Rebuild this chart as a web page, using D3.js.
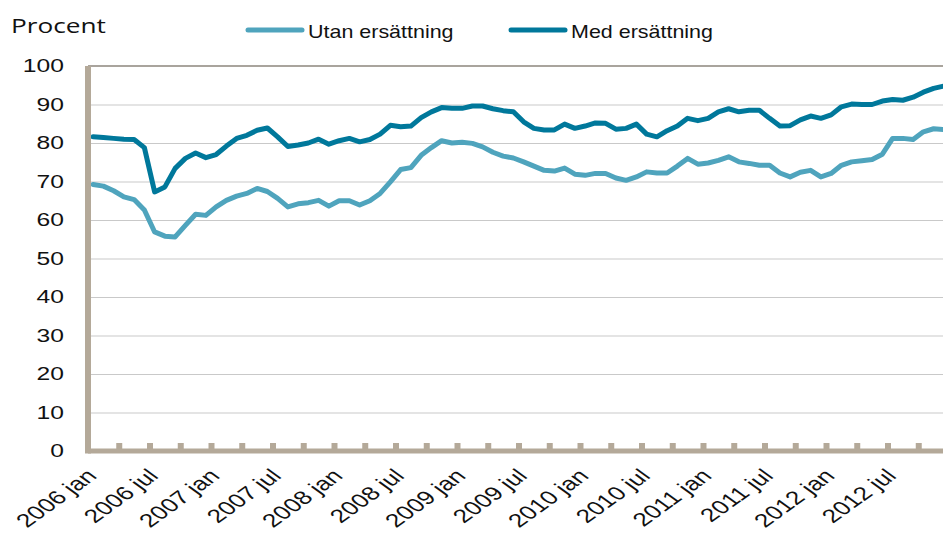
<!DOCTYPE html>
<html>
<head>
<meta charset="utf-8">
<script src="https://cdn.jsdelivr.net/npm/d3@7"></script>
<style>
  body { margin: 0; background: #fff; }
  svg { display: block; }
</style>
</head>
<body>
<svg id="chart"></svg>
<script>
// categories: one per month, 2006 jan .. 2012 dec
const years = [2006, 2007, 2008, 2009, 2010, 2011, 2012]
const monthNames = ["jan", "feb", "mar", "apr", "maj", "jun", "jul", "aug", "sep", "okt", "nov", "dec"]
const months = years.flatMap(y => monthNames.map(m => `${y} ${m}`))

// series values (procent)
const utan = [
  69.2, 68.8, 67.6, 66.0, 65.3, 62.6, 56.9, 55.8, 55.6, 58.6, 61.5, 61.2,
  63.4, 65.1, 66.2, 66.9, 68.2, 67.4, 65.6, 63.4, 64.2, 64.5, 65.1, 63.6,
  65.0, 65.0, 63.9, 65.0, 66.9, 69.9, 73.1, 73.6, 76.8, 78.8, 80.6, 80.0,
  80.2, 79.9, 79.0, 77.6, 76.6, 76.1, 75.1, 74.0, 72.9, 72.7, 73.5, 71.9,
  71.6, 72.1, 72.1, 70.9, 70.3, 71.2, 72.5, 72.2, 72.2, 74.0, 76.0, 74.5,
  74.8, 75.5, 76.4, 75.1, 74.7, 74.2, 74.2, 72.2, 71.2, 72.4, 72.9, 71.2,
  72.1, 74.2, 75.1, 75.4, 75.7, 77.1, 81.2, 81.2, 80.9, 82.9, 83.7, 83.5
]
const med = [
  81.6, 81.4, 81.2, 81.0, 80.9, 78.8, 67.3, 68.6, 73.4, 76.0, 77.4, 76.2,
  77.0, 79.2, 81.2, 82.0, 83.3, 83.9, 81.6, 79.1, 79.5, 80.0, 81.0, 79.7,
  80.6, 81.2, 80.3, 80.9, 82.3, 84.6, 84.2, 84.4, 86.6, 88.1, 89.2, 89.0,
  89.0, 89.6, 89.6, 88.9, 88.4, 88.1, 85.5, 83.8, 83.4, 83.4, 84.9, 83.8,
  84.4, 85.2, 85.1, 83.6, 83.8, 84.9, 82.3, 81.6, 83.2, 84.4, 86.4, 85.8,
  86.4, 88.1, 88.9, 88.1, 88.5, 88.5, 86.4, 84.4, 84.5, 86.0, 87.0, 86.4,
  87.3, 89.4, 90.1, 90.0, 90.0, 90.9, 91.3, 91.1, 91.9, 93.2, 94.2, 94.8
]

const seriesNames = ["Utan ersättning", "Med ersättning"]
const seriesColors = ["#4fa4bd", "#00789b"]
const yTicks = [0, 10, 20, 30, 40, 50, 60, 70, 80, 90, 100]
const yLabel = "Procent"

const width = 943, height = 534
const marginLeft = 88, marginTop = 66, plotBottom = 451
const step = 10.25 // px per month; the plot runs off the right edge like the original
const stretch = 1.37 // the reference text is widened horizontally

const svg = d3.select("#chart")
    .attr("width", width)
    .attr("height", height)
    .attr("viewBox", [0, 0, width, height])

const x = d3.scaleBand()
    .domain(months)
    .range([marginLeft, marginLeft + months.length * step])
    .padding(0)
const xIndex = d3.scaleLinear([0, months.length], x.range())
const y = d3.scaleLinear([0, 100], [plotBottom, marginTop])
const cx = m => x(m) + x.bandwidth() / 2

// gridlines
svg.append("g")
    .attr("transform", `translate(${marginLeft},0)`)
    .call(d3.axisLeft(y).tickValues(yTicks.filter(v => v > 0 && v < 100))
        .tickSize(-(width - marginLeft)).tickFormat(""))
    .call(g => g.select(".domain").remove())
    .call(g => g.selectAll(".tick line").attr("stroke", "#c9c9c9").attr("stroke-width", 1))

// top border
svg.append("line")
    .attr("x1", marginLeft).attr("x2", width)
    .attr("y1", y(100)).attr("y2", y(100))
    .attr("stroke", "#8d867d").attr("stroke-width", 1.5)

// y labels
svg.append("g")
    .attr("transform", `translate(${marginLeft},0)`)
    .call(d3.axisLeft(y).tickValues(yTicks).tickSize(0).tickPadding(24))
    .call(g => g.select(".domain").remove())
    .call(g => g.selectAll(".tick text")
        .attr("x", 0)
        .attr("transform", `translate(-24,0) scale(${stretch},1)`)
        .attr("font-family", "'Liberation Sans', Arial, sans-serif")
        .attr("font-size", 18)
        .attr("fill", "#111"))

// lines
const line = d3.line().x((d, i) => cx(months[i])).y(d => y(d))
;[utan, med].forEach((vals, k) => {
  svg.append("path")
      .datum(vals)
      .attr("fill", "none")
      .attr("stroke", seriesColors[k])
      .attr("stroke-width", 5)
      .attr("stroke-linejoin", "round")
      .attr("stroke-linecap", "round")
      .attr("d", line)
})

// x axis: tick marks every 3 months on category boundaries
const axisColor = "#b4a999"
svg.append("g")
    .attr("transform", `translate(0,${plotBottom})`)
    .call(d3.axisBottom(xIndex).tickValues(d3.range(3, months.length, 3)).tickSize(-8).tickFormat(""))
    .call(g => g.select(".domain").remove())
    .call(g => g.selectAll(".tick line").attr("stroke", axisColor).attr("stroke-width", 6))

svg.append("line")
    .attr("x1", marginLeft).attr("x2", width)
    .attr("y1", plotBottom).attr("y2", plotBottom)
    .attr("stroke", axisColor).attr("stroke-width", 5)

svg.append("line")
    .attr("x1", marginLeft).attr("x2", marginLeft)
    .attr("y1", y(100)).attr("y2", plotBottom + 2.5)
    .attr("stroke", axisColor).attr("stroke-width", 6)

// x labels every 6 months, rotated
svg.append("g")
    .attr("transform", `translate(0,${plotBottom})`)
    .call(d3.axisBottom(x).tickValues(months.filter((m, i) => i % 6 === 0)).tickSize(0))
    .call(g => g.select(".domain").remove())
    .call(g => g.selectAll(".tick text")
        .attr("x", 0).attr("y", 0).attr("dy", 0)
        .attr("text-anchor", "end")
        .attr("transform", `translate(5,26) scale(1.38,1) rotate(-45)`)
        .attr("font-family", "'Liberation Sans', Arial, sans-serif")
        .attr("font-size", 19)
        .attr("fill", "#111"))

// y label
svg.append("text")
    .attr("transform", `translate(11,33) scale(1.31,1)`)
    .attr("font-family", "'Open Sans', sans-serif")
    .attr("font-size", 20)
    .attr("fill", "#111")
    .text(yLabel)

// legend
const legendX = [248, 511]
seriesNames.forEach((name, k) => {
  const g = svg.append("g").attr("transform", `translate(${legendX[k]},30)`)
  g.append("line")
      .attr("x1", 0).attr("x2", 54)
      .attr("stroke", seriesColors[k])
      .attr("stroke-width", 5)
      .attr("stroke-linecap", "round")
  g.append("text")
      .attr("transform", `translate(60,8) scale(1.13,1)`)
      .attr("font-family", "'Liberation Sans', Arial, sans-serif")
      .attr("font-size", 19)
      .attr("fill", "#111")
      .text(name)
})
</script>
</body>
</html>
